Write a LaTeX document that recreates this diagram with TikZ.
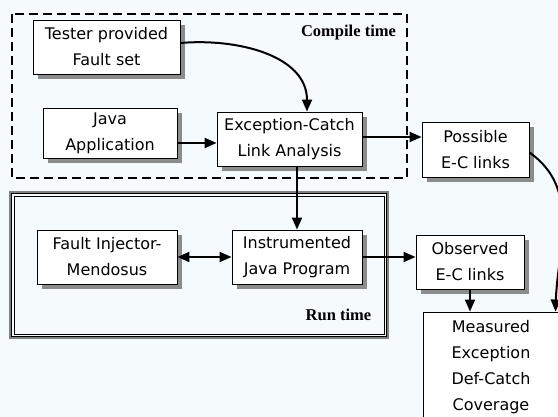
\documentclass[tikz,border=0pt]{standalone}
\usepackage{fontspec}
\setmainfont{Liberation Serif}
\newfontfamily\boxfont{DejaVu Sans}
\usetikzlibrary{arrows.meta,positioning,shadows}
\definecolor{bgblue}{RGB}{245,251,253}
\definecolor{shadowgray}{RGB}{140,140,140}
\tikzset{
  box/.style={
    draw, fill=white, align=center, line width=0.9pt, inner sep=0pt,
    font=\boxfont\fontsize{16}{26}\selectfont,
    drop shadow={shadow xshift=5pt, shadow yshift=-5pt, fill=shadowgray, opacity=1}
  },
  result/.style={box, drop shadow={opacity=0}},
  arr/.style={-{Triangle[length=12pt,width=10pt]}, line width=2pt},
  darr/.style={{Triangle[length=12pt,width=10pt]}-{Triangle[length=12pt,width=10pt]}, line width=2pt},
  tag/.style={font=\bfseries\fontsize{16.5}{18}\selectfont, inner sep=0pt}
}

\begin{document}
\begin{tikzpicture}[x=1pt,y=1pt]
  \fill[bgblue] (0,0) rectangle (558,417);
  \useasboundingbox (0,0) rectangle (558,417);

  % --- compile time frame -----------------------------------------------
  \draw[line width=2.5pt, dash pattern=on 9pt off 5pt] (12,403) rectangle (407,239);
  \node[tag] (ctime) at (348.5,384) {Compile time};

  % --- run time frame ---------------------------------------------------
  \draw[line width=2.5pt, gray] (10,225) rectangle (388,79);
  \draw[line width=0.8pt] (11.5,223.5) rectangle (386.5,80.5);
  \draw[line width=0.7pt] (14,221) rectangle (384,83);
  \node[tag] (rtime) at (338.5,102) {Run time};

  % --- boxes -------------------------------------------------------------
  \node[box, minimum width=147pt, minimum height=54pt] (fset) at (106.5,370) {Tester provided\\Fault set};
  \node[box, minimum width=134pt, minimum height=50pt] (japp) at (110,284) {Java\\Application};
  \node[box, minimum width=145pt, minimum height=54pt] (ecla) at (289.5,278) {Exception-Catch\\Link Analysis};
  \node[box, minimum width=107pt, minimum height=55pt] (poss) at (475.5,267.5) {Possible\\E-C links};
  \node[box, minimum width=140pt, minimum height=54pt] (finj) at (107,160) {Fault Injector-\\Mendosus};
  \node[box, minimum width=130pt, minimum height=54pt] (ijp) at (297,160) {Instrumented\\Java Program};
  \node[box, minimum width=108pt, minimum height=54pt] (obs) at (470,155) {Observed\\E-C links};
  \node[result, minimum width=136pt, minimum height=110pt] (cov) at (491,50) {Measured\\Exception\\Def-Catch\\Coverage};

  % --- connectors --------------------------------------------------------
  \draw[arr] ([yshift=4pt]fset.east) to[out=5, in=90] ([xshift=17.5pt]ecla.north);
  \draw[arr] ([yshift=-10pt]japp.east) -- ([yshift=-4pt]ecla.west);
  \draw[arr] ([yshift=2pt]ecla.east) -- ([yshift=12.5pt]poss.west);
  \draw[arr] (ecla.south -| ijp.north) -- (ijp.north);
  \draw[darr] (finj.east) -- (ijp.west);
  \draw[arr] (ijp.east) -- (ijp.east -| obs.west);
  \draw[arr] (obs.south) -- (obs.south |- cov.north);
  \draw[arr] ([yshift=-3pt]poss.east) to[out=-35, in=88] ([xshift=-4pt]cov.north east);
\end{tikzpicture}
\end{document}
